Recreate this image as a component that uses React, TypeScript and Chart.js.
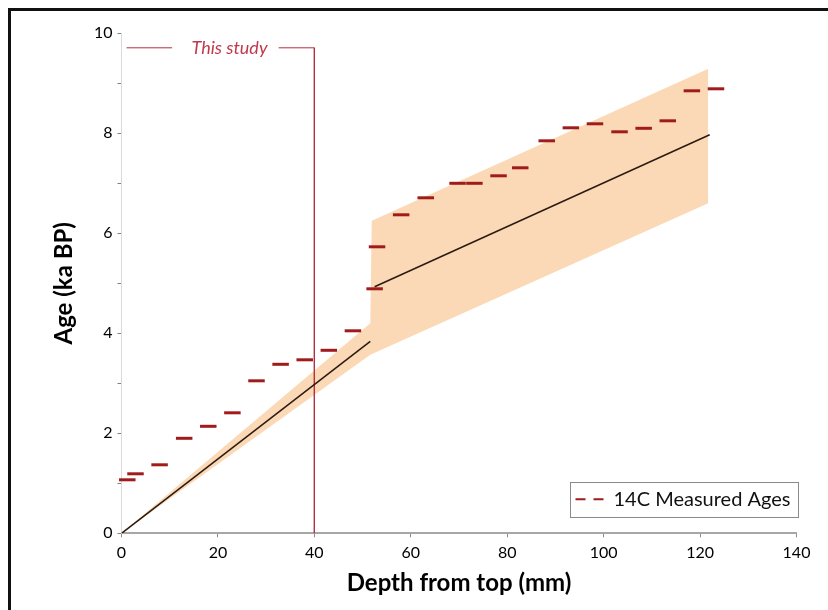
import { useEffect, useRef } from 'react';
import { Chart, registerables } from 'chart.js';

Chart.register(...registerables);

// 14C measured ages (depth mm, age ka BP)
const measuredDepths = [1.2, 2.9, 7.9, 13.0, 18.0, 23.0, 28.0, 33.0, 38.0, 43.0, 48.0, 52.5, 53.0, 58.0, 63.1, 69.7, 73.2, 78.2, 82.7, 88.2, 93.2, 98.2, 103.3, 108.3, 113.3, 118.3, 123.3];
const measuredAges = [1.07, 1.19, 1.37, 1.9, 2.14, 2.41, 3.05, 3.38, 3.47, 3.66, 4.05, 4.89, 5.73, 6.37, 6.71, 7.0, 7.0, 7.15, 7.31, 7.85, 8.11, 8.19, 8.03, 8.1, 8.25, 8.85, 8.89];

// Age model uncertainty band
const bandUpperDepths = [0, 51.6, 51.9, 121.7];
const bandUpperAges = [0, 4.2, 6.25, 9.29];
const bandLowerDepths = [0, 51.6, 121.7];
const bandLowerAges = [0, 3.57, 6.6];

// Age model (two segments)
const modelDepthsA = [0, 51.6];
const modelAgesA = [0, 3.84];
const modelDepthsB = [52.5, 122];
const modelAgesB = [4.93, 7.97];

// "This study" bracket
const studyLeftDepths = [1.05, 10.5];
const studyLeftAges = [9.71, 9.71];
const studyRightDepths = [32.6, 40, 40];
const studyRightAges = [9.71, 9.71, 0];
const studyLabel = 'This study';
const studyLabelDepth = 22.4;
const studyLabelAge = 9.71;

const legendLabel = '14C Measured Ages';
const xTitle = 'Depth from top (mm)';
const yTitle = 'Age (ka BP)';
const xMin = 0, xMax = 140, xStep = 20;
const yMin = 0, yMax = 10, yStep = 1;

const pts = (xs: number[], ys: number[]) => xs.map((x, i) => ({ x, y: ys[i] }));

const DASH_COLOR = '#A01C1C';
const STUDY_COLOR = '#B3313F';

const annotPlugin = {
  id: 'annot',
  afterDatasetsDraw(chart: any) {
    const { ctx, scales } = chart;
    const x = scales.x.getPixelForValue(studyLabelDepth);
    const y = scales.y.getPixelForValue(studyLabelAge);
    ctx.save();
    ctx.font = 'italic 18px Lato';
    ctx.fillStyle = '#C0394A';
    ctx.textAlign = 'center';
    ctx.textBaseline = 'alphabetic';
    ctx.fillText(studyLabel, x, y + 6.5);
    ctx.restore();
  },
  afterDraw(chart: any) {
    const { ctx, chartArea } = chart;
    const right = chartArea.right + 1;
    const bottom = chartArea.bottom - 16.5;
    const w = 228;
    const h = 35;
    const left = right - w;
    const top = bottom - h;
    ctx.save();
    ctx.fillStyle = '#fff';
    ctx.fillRect(left, top, w, h);
    ctx.strokeStyle = '#8A8A8A';
    ctx.lineWidth = 1;
    ctx.strokeRect(Math.round(left) + 0.5, Math.round(top) + 0.5, w, h);
    ctx.strokeStyle = DASH_COLOR;
    ctx.lineWidth = 2;
    const my = top + h / 2;
    ctx.beginPath();
    ctx.moveTo(left + 6, my);
    ctx.lineTo(left + 16, my);
    ctx.moveTo(left + 24, my);
    ctx.lineTo(left + 34, my);
    ctx.stroke();
    ctx.font = '20px Lato';
    ctx.fillStyle = '#111';
    ctx.textAlign = 'left';
    ctx.textBaseline = 'alphabetic';
    ctx.fillText(legendLabel, left + 44, my + 7);
    ctx.restore();
  },
};

export default function App() {
  const ref = useRef<HTMLCanvasElement>(null);
  useEffect(() => {
    const canvas = ref.current!;
    Chart.defaults.font.family = 'Lato';
    const chart = new Chart(canvas, {
      type: 'scatter',
      data: {
        datasets: [
          {
            label: legendLabel,
            data: pts(measuredDepths, measuredAges),
            showLine: false,
            pointStyle: 'line',
            pointRadius: 8.25,
            pointBorderWidth: 3,
            pointBorderColor: DASH_COLOR,
            pointBackgroundColor: DASH_COLOR,
            clip: false,
          } as any,
          {
            label: 'modelA',
            data: pts(modelDepthsA, modelAgesA),
            showLine: true,
            borderColor: '#2A1A10',
            borderWidth: 1.5,
            pointRadius: 0,
          },
          {
            label: 'modelB',
            data: pts(modelDepthsB, modelAgesB),
            showLine: true,
            borderColor: '#2A1A10',
            borderWidth: 1.5,
            pointRadius: 0,
          },
          {
            label: 'studyLeft',
            data: pts(studyLeftDepths, studyLeftAges),
            showLine: true,
            borderColor: STUDY_COLOR,
            borderWidth: 1,
            pointRadius: 0,
          },
          {
            label: 'studyRight',
            data: pts(studyRightDepths, studyRightAges),
            showLine: true,
            borderColor: STUDY_COLOR,
            borderWidth: 1,
            pointRadius: 0,
          },
          {
            label: 'bandUpper',
            data: pts(bandUpperDepths, bandUpperAges),
            showLine: true,
            borderColor: 'rgba(0,0,0,0)',
            borderWidth: 0,
            backgroundColor: '#FCD9B6',
            fill: 6,
            pointRadius: 0,
            tension: 0,
          } as any,
          {
            label: 'bandLower',
            data: pts(bandLowerDepths, bandLowerAges),
            showLine: true,
            borderColor: 'rgba(0,0,0,0)',
            borderWidth: 0,
            fill: false,
            pointRadius: 0,
          },
        ],
      },
      options: {
        responsive: false,
        animation: false,
        events: [],
        layout: { padding: { left: 0, top: 33.3, right: 31.5, bottom: 0 } },
        plugins: {
          legend: { display: false },
          tooltip: { enabled: false },
        },
        scales: {
          x: {
            type: 'linear',
            min: xMin,
            max: xMax,
            ticks: { stepSize: xStep, padding: 6, color: '#000', font: { size: 16 } },
            grid: { drawOnChartArea: false, drawTicks: true, tickLength: 4, tickColor: '#8C8C8C' },
            border: { color: '#A6A6A6', width: 2 },
            title: {
              display: true,
              text: xTitle,
              color: '#000',
              font: { size: 24, weight: 'bold' },
              padding: { top: 0, bottom: 12.3 },
            },
            afterFit: (s: any) => { s.height = 76.7; },
          },
          y: {
            type: 'linear',
            min: yMin,
            max: yMax,
            ticks: {
              stepSize: yStep,
              padding: 5,
              color: '#000',
              font: { size: 16 },
              callback: (v: any) => (Number(v) % 2 === 0 ? String(v) : ''),
            },
            grid: { drawOnChartArea: false, drawTicks: true, tickLength: 4, tickColor: '#7F7F7F' },
            border: { color: '#D9D9D9', width: 1 },
            title: {
              display: true,
              text: yTitle,
              color: '#000',
              font: { size: 24, weight: 'bold' },
              padding: { top: 49.6, bottom: 0 },
            },
            afterFit: (s: any) => { s.width = 121.5; },
          },
        },
      } as any,
      plugins: [annotPlugin],
    });
    return () => chart.destroy();
  }, []);
  return (
    <div style={{ position: 'fixed', left: 0, top: 0, width: 828, height: 610, background: '#fff', overflow: 'hidden' }}>
      <canvas ref={ref} width={828} height={610} style={{ display: 'block', width: 828, height: 610 }} />
      <div
        style={{
          position: 'absolute',
          left: 8,
          top: 8,
          width: 900,
          height: 700,
          border: '3px solid #111',
          boxSizing: 'border-box',
          pointerEvents: 'none',
        }}
      />
    </div>
  );
}
